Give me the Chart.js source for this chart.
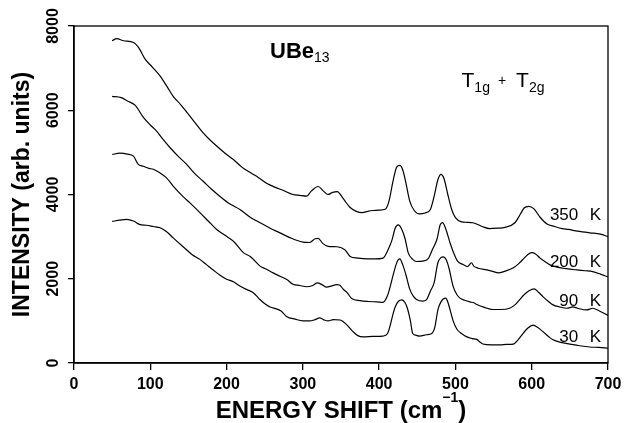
<!DOCTYPE html>
<html>
<head>
<meta charset="utf-8">
<script src="https://cdn.jsdelivr.net/npm/chart.js@4.4.1/dist/chart.umd.min.js"></script>
<style>
  html, body { margin: 0; padding: 0; background: #fff; }
  canvas { display: block; }
</style>
</head>
<body>
<canvas id="chart" width="634" height="423"></canvas>
<script>
// UBe13 Raman spectra (T1g + T2g), one trace per temperature
var shift350 = [50, 56, 65, 78, 85, 93, 103, 113, 122, 130, 140, 148, 158, 169, 178, 187, 198, 209, 220, 231, 242, 253, 264, 274, 287, 296, 305, 311, 320, 327, 333, 339, 345, 353, 362, 370, 378, 385, 392, 400, 408, 413, 418, 423, 427, 431, 435, 440, 446, 453, 460, 467, 472, 477, 481, 485, 490, 495, 500, 508, 515, 523, 535, 545, 555, 565, 578, 585, 590, 596, 603, 611, 620, 630, 640, 648, 660, 676, 690, 700];
var int350 = [7650, 7700, 7650, 7610, 7480, 7220, 7020, 6810, 6560, 6330, 6130, 5950, 5720, 5470, 5300, 5150, 4980, 4830, 4650, 4520, 4400, 4260, 4170, 4100, 4000, 3980, 3960, 4080, 4190, 4080, 4000, 4050, 4070, 3900, 3690, 3600, 3570, 3600, 3620, 3630, 3650, 3850, 4300, 4650, 4690, 4580, 4280, 3850, 3620, 3540, 3560, 3640, 3950, 4350, 4480, 4380, 4000, 3650, 3450, 3350, 3340, 3330, 3240, 3190, 3200, 3220, 3330, 3530, 3680, 3720, 3660, 3460, 3300, 3240, 3190, 3170, 3130, 3090, 3060, 3000];

var shift200 = [50, 62, 70, 80, 91, 100, 108, 117, 126, 137, 148, 158, 169, 180, 191, 204, 218, 231, 244, 257, 270, 285, 300, 309, 316, 320, 326, 333, 345, 355, 362, 372, 384, 395, 405, 412, 417, 421, 425, 429, 434, 438, 444, 449, 457, 464, 470, 476, 480, 483, 487, 493, 498, 503, 510, 516, 521, 524, 530, 541, 550, 556, 565, 576, 583, 588, 594, 600, 605, 611, 618, 624, 635, 645, 659, 670, 680, 690, 700];
var int200 = [6330, 6300, 6220, 6120, 5830, 5650, 5510, 5300, 5110, 4900, 4710, 4500, 4320, 4130, 3960, 3780, 3640, 3460, 3330, 3200, 3090, 2960, 2870, 2860, 2950, 2960, 2840, 2770, 2760, 2690, 2530, 2490, 2470, 2470, 2490, 2700, 2930, 3200, 3280, 3200, 2950, 2620, 2460, 2410, 2420, 2470, 2700, 2950, 3280, 3330, 3200, 2850, 2600, 2410, 2340, 2290, 2380, 2300, 2250, 2210, 2170, 2140, 2180, 2260, 2360, 2450, 2560, 2620, 2590, 2490, 2400, 2330, 2270, 2240, 2210, 2190, 2170, 2110, 2040];

var shift90 = [50, 60, 70, 78, 84, 91, 98, 104, 112, 121, 130, 143, 152, 165, 176, 187, 198, 209, 222, 231, 244, 253, 261, 270, 279, 287, 296, 305, 313, 319, 325, 331, 338, 344, 348, 353, 358, 364, 375, 386, 397, 405, 411, 415, 420, 424, 427, 431, 435, 440, 445, 449, 457, 462, 467, 472, 477, 481, 484, 488, 492, 497, 502, 506, 512, 519, 524, 528, 538, 549, 560, 571, 578, 584, 590, 597, 603, 609, 615, 622, 628, 637, 646, 654, 660, 672, 680, 688, 700];
var int90 = [4950, 4980, 4960, 4910, 4720, 4670, 4620, 4600, 4520, 4400, 4200, 3950, 3800, 3570, 3370, 3170, 3030, 2890, 2620, 2530, 2300, 2220, 2140, 2060, 1980, 1870, 1840, 1810, 1840, 1900, 1860, 1800, 1830, 1860, 1850, 1750, 1670, 1530, 1480, 1460, 1450, 1440, 1600, 1850, 2200, 2420, 2470, 2330, 2100, 1760, 1580, 1510, 1470, 1500, 1700, 1900, 2380, 2500, 2520, 2450, 2220, 1820, 1620, 1540, 1490, 1450, 1430, 1390, 1320, 1270, 1270, 1300, 1380, 1500, 1620, 1720, 1760, 1680, 1570, 1460, 1380, 1330, 1300, 1330, 1300, 1260, 1300, 1240, 1130];

var shift30 = [50, 60, 69, 78, 86, 95, 104, 113, 121, 130, 143, 155, 165, 174, 183, 191, 200, 209, 218, 228, 235, 244, 252, 257, 266, 271, 279, 290, 300, 309, 316, 322, 327, 333, 340, 349, 353, 358, 366, 372, 379, 392, 405, 411, 414, 418, 421, 425, 430, 434, 437, 441, 444, 448, 453, 462, 469, 473, 477, 481, 487, 490, 493, 497, 502, 508, 515, 522, 528, 532, 536, 547, 558, 567, 576, 582, 589, 595, 602, 608, 615, 622, 628, 638, 650, 663, 676, 688, 700];
var int30 = [3360, 3390, 3410, 3370, 3290, 3270, 3240, 3210, 3120, 2970, 2760, 2570, 2460, 2330, 2200, 2090, 1990, 1930, 1820, 1730, 1670, 1500, 1380, 1330, 1280, 1240, 1100, 1040, 1000, 1000, 1030, 1070, 1030, 1000, 1030, 1020, 980, 900, 740, 650, 620, 630, 640, 700, 860, 1150, 1330, 1460, 1500, 1430, 1300, 1000, 700, 660, 640, 670, 700, 850, 1260, 1450, 1540, 1450, 1260, 1000, 800, 700, 620, 580, 560, 500, 450, 430, 430, 440, 450, 550, 710, 830, 900, 840, 740, 630, 550, 490, 450, 410, 380, 370, 350];

var temps = ['350', '200', '90', '30'];
var tempLabelY = [3400, 2290, 1360, 500];

function pts(xs, ys) {
  var out = [];
  for (var i = 0; i < xs.length; i++) out.push({x: xs[i], y: ys[i]});
  return out;
}

function line(xs, ys) {
  return {
    data: pts(xs, ys),
    borderColor: '#000',
    borderWidth: 1.2,
    pointRadius: 0,
    fill: false,
    showLine: true,
    cubicInterpolationMode: 'monotone'
  };
}

var FONT = '"Liberation Sans", Arial, Helvetica, sans-serif';

function drawRuns(ctx, runs, x, y, align) {
  var total = 0;
  runs.forEach(function (r) {
    ctx.font = r.font;
    r.w = ctx.measureText(r.text).width;
    total += r.w + (r.gap || 0);
  });
  if (align === 'center') x -= total / 2;
  runs.forEach(function (r) {
    ctx.font = r.font;
    ctx.fillText(r.text, x, y + (r.dy || 0));
    x += r.w + (r.gap || 0);
  });
}

var textPlugin = {
  id: 'texts',
  afterDraw: function (chart) {
    var ctx = chart.ctx, a = chart.chartArea;
    var xs = chart.scales.x, ys = chart.scales.y;
    ctx.save();
    ctx.strokeStyle = '#000';
    ctx.lineWidth = 1.3;
    ctx.strokeRect(a.left, a.top, a.right - a.left, a.bottom - a.top);
    ctx.fillStyle = '#000';

    // y tick labels are rotated in the original
    ctx.font = 'bold 16px ' + FONT;
    ctx.textAlign = 'center';
    ctx.textBaseline = 'middle';
    ys.ticks.forEach(function (t) {
      ctx.save();
      ctx.translate(a.left - 20, ys.getPixelForValue(t.value));
      ctx.rotate(-Math.PI / 2);
      ctx.fillText(String(t.value), 0, 0);
      ctx.restore();
    });

    // y axis title
    ctx.save();
    ctx.translate(23, (a.top + a.bottom) / 2);
    ctx.rotate(-Math.PI / 2);
    ctx.font = 'bold 23px ' + FONT;
    ctx.fillText('INTENSITY (arb. units)', 0, 0);
    ctx.restore();

    ctx.textAlign = 'left';
    ctx.textBaseline = 'alphabetic';

    // x axis title
    drawRuns(ctx, [
      {text: 'ENERGY SHIFT (cm', font: 'bold 24px ' + FONT},
      {text: '\u22121', font: 'bold 14px ' + FONT, dy: -16},
      {text: ')', font: 'bold 24px ' + FONT}
    ], (a.left + a.right) / 2, 418, 'center');

    // compound name
    drawRuns(ctx, [
      {text: 'UBe', font: 'bold 22px ' + FONT},
      {text: '13', font: '14px ' + FONT, dy: 4}
    ], xs.getPixelForValue(257), ys.getPixelForValue(7240));

    // symmetry
    drawRuns(ctx, [
      {text: 'T', font: '21px ' + FONT},
      {text: '1g', font: '14px ' + FONT, dy: 5, gap: 8},
      {text: '+', font: '14px ' + FONT, dy: -2, gap: 10},
      {text: 'T', font: '21px ' + FONT},
      {text: '2g', font: '14px ' + FONT, dy: 5}
    ], xs.getPixelForValue(508), ys.getPixelForValue(6550));

    // temperature labels
    ctx.font = '17px ' + FONT;
    temps.forEach(function (t, i) {
      var py = ys.getPixelForValue(tempLabelY[i]);
      ctx.textAlign = 'right';
      ctx.fillText(t, xs.getPixelForValue(661), py);
      ctx.textAlign = 'left';
      ctx.fillText('K', xs.getPixelForValue(676), py);
    });
    ctx.restore();
  }
};

new Chart(document.getElementById('chart'), {
  type: 'scatter',
  data: {
    datasets: [
      line(shift350, int350),
      line(shift200, int200),
      line(shift90, int90),
      line(shift30, int30)
    ]
  },
  options: {
    responsive: false,
    animation: false,
    devicePixelRatio: 1,
    layout: {padding: {top: 26, right: 26, left: 0, bottom: 0}},
    plugins: {legend: {display: false}, tooltip: {enabled: false}},
    scales: {
      x: {
        type: 'linear',
        min: 0,
        max: 700,
        ticks: {stepSize: 100, color: '#000', padding: 5, font: {family: FONT, size: 16, weight: 'bold'}},
        grid: {drawOnChartArea: false, drawTicks: true, tickLength: 7, color: '#000', lineWidth: 1.3},
        border: {display: true, color: '#000', width: 1.5},
        afterFit: function (s) { s.height = 60; }
      },
      y: {
        type: 'linear',
        min: 0,
        max: 8000,
        ticks: {stepSize: 2000, display: false},
        grid: {drawOnChartArea: false, drawTicks: true, tickLength: 6, color: '#000', lineWidth: 1.3},
        border: {display: true, color: '#000', width: 1.5},
        afterFit: function (s) { s.width = 74; }
      }
    }
  },
  plugins: [textPlugin]
});
</script>
</body>
</html>
